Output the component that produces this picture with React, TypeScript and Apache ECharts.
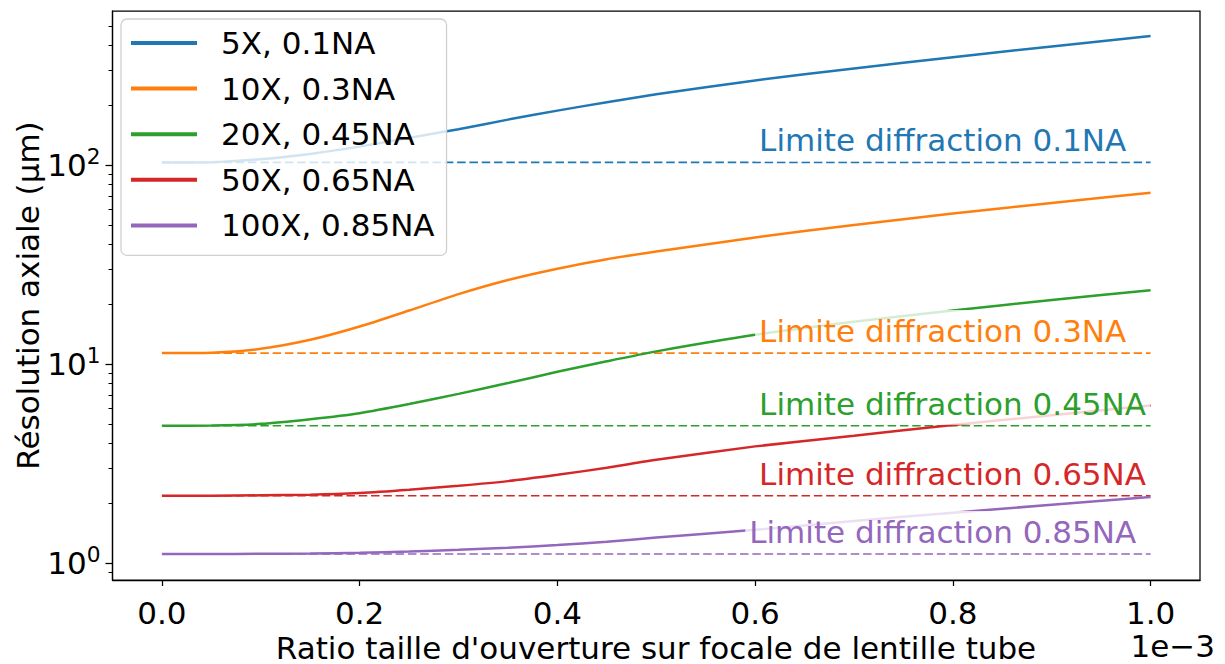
import React, { useEffect, useRef } from "react";
import * as echarts from "echarts";

// x in units of 1e-3 (ratio taille d'ouverture / focale lentille tube)
const xValues = [0, 0.05, 0.1, 0.15, 0.2, 0.25, 0.3, 0.35, 0.4, 0.45, 0.5, 0.6, 0.7, 0.8, 0.9, 1.0];

const seriesNames = ["5X, 0.1NA", "10X, 0.3NA", "20X, 0.45NA", "50X, 0.65NA", "100X, 0.85NA"];

const res5x = [103.3, 103.5, 107.2, 114.0, 124.0, 137.2, 151.7, 169.5, 188.1, 207.4, 227.4, 266.8, 306.5, 348.9, 395.4, 446.3];
const res10x = [11.36, 11.4, 11.94, 13.25, 15.45, 18.6, 22.5, 26.5, 30.2, 33.7, 36.8, 43.37, 50.12, 57.13, 64.66, 72.8];
const res20x = [4.9, 4.915, 5.01, 5.29, 5.67, 6.3, 7.09, 8.03, 9.15, 10.33, 11.59, 14.04, 16.32, 18.59, 21.0, 23.54];
const res50x = [2.178, 2.178, 2.191, 2.204, 2.248, 2.335, 2.446, 2.582, 2.778, 3.012, 3.304, 3.86, 4.37, 4.94, 5.54, 6.19];
const res100x = [1.11, 1.11, 1.114, 1.117, 1.126, 1.144, 1.166, 1.194, 1.232, 1.279, 1.345, 1.47, 1.626, 1.792, 1.963, 2.146];

const diffractionLimits = [103.3, 11.36, 4.9, 2.178, 1.11];
const limitLabels = [
  "Limite diffraction 0.1NA",
  "Limite diffraction 0.3NA",
  "Limite diffraction 0.45NA",
  "Limite diffraction 0.65NA",
  "Limite diffraction 0.85NA",
];
const labelX = [0.6, 0.6, 0.6, 0.6, 0.59];
const limitXRange = [0, 1.0];

const xTicks = [0, 0.2, 0.4, 0.6, 0.8, 1.0];
const yMajorTicks = [1, 10, 100];
const yMinorTicks = [0.9, 2, 3, 4, 5, 6, 7, 8, 9, 20, 30, 40, 50, 60, 70, 80, 90, 200, 300, 400, 500];

const colors = ["#1f77b4", "#ff7f0e", "#2ca02c", "#d62728", "#9467bd"];
const FONT = "DejaVu Sans";
const FS = 31;

export default function App() {
  const ref = useRef<HTMLDivElement>(null);

  useEffect(() => {
    if (!ref.current) return;
    const chart = echarts.init(ref.current, null, { renderer: "svg" });
    const allSeries = [res5x, res10x, res20x, res50x, res100x];

    const series: any[] = [];
    allSeries.forEach((vals, i) => {
      series.push({
        name: seriesNames[i],
        type: "line",
        data: xValues.map((x, j) => [x, vals[j]]),
        showSymbol: false,
        symbol: "none",
        smooth: 0.2,
        lineStyle: { color: colors[i], width: 2.5 },
        itemStyle: { color: colors[i] },
        z: 2,
        silent: true,
      });
      series.push({
        name: "limit" + i,
        type: "line",
        data: limitXRange.map((x) => [x, diffractionLimits[i]]),
        showSymbol: false,
        symbol: "none",
        lineStyle: { color: colors[i], width: 1.6, type: [8.5, 3.8] },
        z: 2,
        silent: true,
      });
    });
    series.push({
      name: "labels",
      type: "scatter",
      symbolSize: 0,
      z: 5,
      silent: true,
      itemStyle: { opacity: 1 },
      data: diffractionLimits.map((v, i) => ({
        value: [labelX[i], v],
        itemStyle: { opacity: 1 },
        label: {
          show: true,
          position: "right",
          distance: 0,
          offset: [0, -22],
          formatter: limitLabels[i],
          color: colors[i],
          opacity: 1,
          fontSize: FS,
          fontFamily: FONT,
          backgroundColor: "rgba(255,255,255,0.8)",
          padding: [5, 4, 6, 4],
        },
      })),
    });

    chart.setOption({
      animation: false,
      backgroundColor: "#ffffff",
      grid: {
        left: 112.5,
        right: 25,
        top: 11,
        bottom: 84,
        show: true,
        borderColor: "#000",
        borderWidth: 1.25,
        backgroundColor: "transparent",
      },
      legend: {
        data: seriesNames,
        orient: "vertical",
        left: 121,
        top: 19,
        icon: "rect",
        itemWidth: 66,
        itemHeight: 4,
        itemGap: 11.6,
        padding: [7, 12, 13, 10],
        backgroundColor: "rgba(255,255,255,0.8)",
        borderColor: "#d0d0d0",
        borderWidth: 1.3,
        borderRadius: 6,
        selectedMode: false,
        textStyle: {
          fontSize: FS,
          fontFamily: FONT,
          color: "#000",
          lineHeight: 34,
          padding: [0, 0, 0, 19],
        },
        z: 4,
      },
      xAxis: {
        type: "value",
        min: -0.05,
        max: 1.05,
        splitLine: { show: false },
        axisLine: { show: true, onZero: false, lineStyle: { color: "#000", width: 1.25 } },
        axisTick: { show: true, customValues: xTicks, length: 6, lineStyle: { color: "#000", width: 1.25 } },
        axisLabel: {
          customValues: xTicks,
          formatter: (v: number) => v.toFixed(1),
          fontSize: FS,
          fontFamily: FONT,
          color: "#000",
          margin: 17,
        },
      },
      yAxis: [
        {
          type: "log",
          logBase: 10,
          min: 0.822,
          max: 596,
          position: "left",
          splitLine: { show: false },
          axisLine: { show: true, onZero: false, lineStyle: { color: "#000", width: 1.25 } },
          axisTick: { show: true, customValues: yMajorTicks, length: 7, lineStyle: { color: "#000", width: 1.25 } },
          axisLabel: {
            customValues: yMajorTicks,
            margin: 12,
            formatter: (v: number) => "{b|10}{s|" + Math.round(Math.log10(v)) + "}",
            rich: {
              b: { fontSize: FS, fontFamily: FONT, color: "#000", lineHeight: 40 },
              s: { fontSize: 21.7, fontFamily: FONT, color: "#000", lineHeight: 21, verticalAlign: "top" },
            },
          },
        },
        {
          type: "log",
          logBase: 10,
          min: 0.822,
          max: 596,
          position: "left",
          offset: 0,
          splitLine: { show: false },
          axisLine: { show: false, onZero: false },
          axisTick: { show: true, customValues: yMinorTicks, length: 4, lineStyle: { color: "#000", width: 1 } },
          axisLabel: { show: false },
        },
      ],
      graphic: [
        {
          type: "text",
          x: 656,
          y: 647.5,
          style: {
            text: "Ratio taille d'ouverture sur focale de lentille tube",
            fontSize: FS,
            fontFamily: FONT,
            fill: "#000",
            align: "center",
            verticalAlign: "middle",
          },
        },
        {
          type: "text",
          x: 27.5,
          y: 295.5,
          rotation: Math.PI / 2,
          style: {
            text: "Résolution axiale (µm)",
            fontSize: FS,
            fontFamily: FONT,
            fill: "#000",
            align: "center",
            verticalAlign: "middle",
          },
        },
        {
          type: "text",
          x: 1215,
          y: 646,
          style: {
            text: "1e\u22123",
            fontSize: FS,
            fontFamily: FONT,
            fill: "#000",
            align: "right",
            verticalAlign: "middle",
          },
        },
      ],
      series,
    });

    return () => chart.dispose();
  }, []);

  return (
    <div
      ref={ref}
      style={{ position: "fixed", left: 0, top: 0, width: 1225, height: 664, background: "#fff" }}
    />
  );
}
